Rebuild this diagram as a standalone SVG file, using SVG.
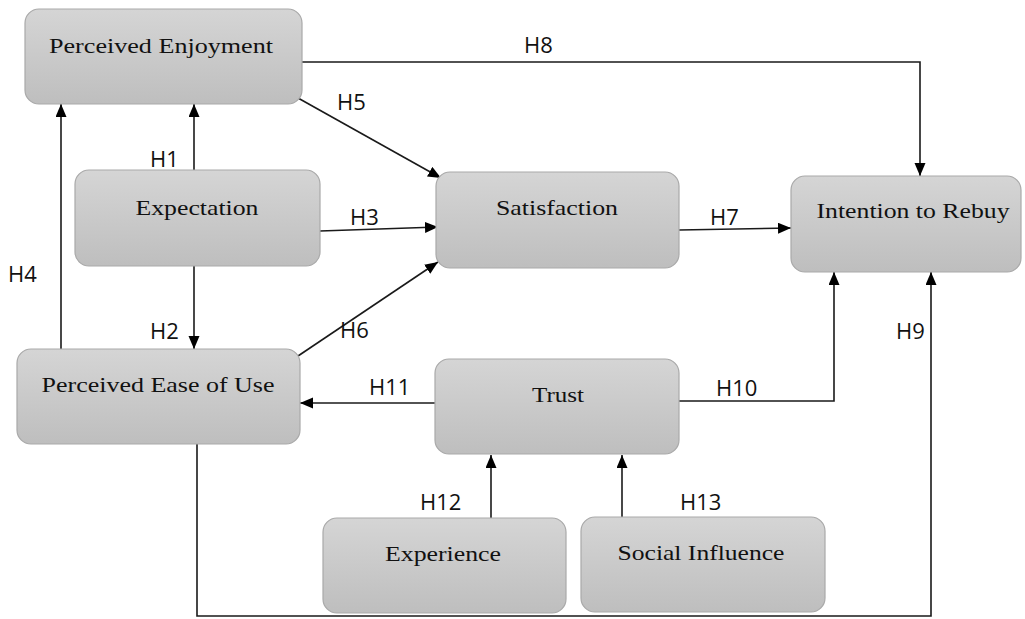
<svg xmlns="http://www.w3.org/2000/svg" width="1025" height="619" viewBox="0 0 1025 619">
<defs>
<linearGradient id="g" x1="0" y1="0" x2="0" y2="1">
<stop offset="0" stop-color="#d5d5d5"/>
<stop offset="1" stop-color="#bebebe"/>
</linearGradient>
<marker id="ah" markerUnits="userSpaceOnUse" markerWidth="14" markerHeight="12" refX="13" refY="5.5" orient="auto">
<path d="M0,0 L13,5.5 L0,11 Z" fill="#000"/>
</marker>
<style>
.box{fill:url(#g);stroke:#a9a9a9;stroke-width:1.2}
.nt{font-family:"Liberation Serif","Times New Roman",serif;font-size:22px;fill:#111;text-anchor:middle}
.lb{font-family:"Open Sans","DejaVu Sans",sans-serif;font-size:22px;fill:#111}
.c{fill:none;stroke:#1a1a1a;stroke-width:1.6;marker-end:url(#ah)}
</style>
</defs>
<rect width="1025" height="619" fill="#fff"/>

<g id="connectors">
<polyline class="c" points="302,62 920,62 920,176"/>
<line class="c" x1="298" y1="98" x2="441" y2="178"/>
<line class="c" x1="320" y1="231" x2="438" y2="227"/>
<line class="c" x1="298" y1="356" x2="438" y2="262"/>
<line class="c" x1="679" y1="230" x2="791" y2="228"/>
<line class="c" x1="194" y1="170" x2="194" y2="104"/>
<line class="c" x1="61" y1="349" x2="61" y2="104"/>
<line class="c" x1="194" y1="266" x2="194" y2="349"/>
<line class="c" x1="435" y1="403" x2="300" y2="403"/>
<polyline class="c" points="679,401 834,401 834,272"/>
<polyline class="c" points="197,444 197,616 931,616 931,272"/>
<line class="c" x1="491" y1="518" x2="491" y2="455"/>
<line class="c" x1="622" y1="517" x2="622" y2="455"/>
<text class="lb" x="150" y="167">H1</text>
<text class="lb" x="150" y="339">H2</text>
<text class="lb" x="350" y="225">H3</text>
<text class="lb" x="8" y="282">H4</text>
<text class="lb" x="337" y="110">H5</text>
<text class="lb" x="340" y="338">H6</text>
<text class="lb" x="710" y="225">H7</text>
<text class="lb" x="524" y="53">H8</text>
<text class="lb" x="896" y="339">H9</text>
<text class="lb" x="716" y="396">H10</text>
<text class="lb" x="369" y="395">H11</text>
<text class="lb" x="420" y="510">H12</text>
<text class="lb" x="680" y="510">H13</text>
</g>

<g id="perceived-enjoyment">
<rect class="box" x="25" y="9" width="277" height="95" rx="14"/>
<text class="nt" x="161" y="53" textLength="224" lengthAdjust="spacingAndGlyphs">Perceived Enjoyment</text>
</g>
<g id="expectation">
<rect class="box" x="75" y="170" width="245" height="96" rx="14"/>
<text class="nt" x="197" y="215" textLength="123" lengthAdjust="spacingAndGlyphs">Expectation</text>
</g>
<g id="satisfaction">
<rect class="box" x="436" y="172" width="243" height="96" rx="14"/>
<text class="nt" x="557" y="215" textLength="122" lengthAdjust="spacingAndGlyphs">Satisfaction</text>
</g>
<g id="intention-to-rebuy">
<rect class="box" x="791" y="176" width="230" height="96" rx="14"/>
<text class="nt" x="913" y="218" textLength="193" lengthAdjust="spacingAndGlyphs">Intention to Rebuy</text>
</g>
<g id="perceived-ease-of-use">
<rect class="box" x="17" y="349" width="283" height="95" rx="14"/>
<text class="nt" x="158" y="392" textLength="233" lengthAdjust="spacingAndGlyphs">Perceived Ease of Use</text>
</g>
<g id="trust">
<rect class="box" x="435" y="359" width="244" height="95" rx="14"/>
<text class="nt" x="558" y="402" textLength="52" lengthAdjust="spacingAndGlyphs">Trust</text>
</g>
<g id="experience">
<rect class="box" x="323" y="518" width="243" height="95" rx="14"/>
<text class="nt" x="443" y="561" textLength="116" lengthAdjust="spacingAndGlyphs">Experience</text>
</g>
<g id="social-influence">
<rect class="box" x="581" y="517" width="244" height="95" rx="14"/>
<text class="nt" x="701" y="560" textLength="167" lengthAdjust="spacingAndGlyphs">Social Influence</text>
</g>
</svg>
